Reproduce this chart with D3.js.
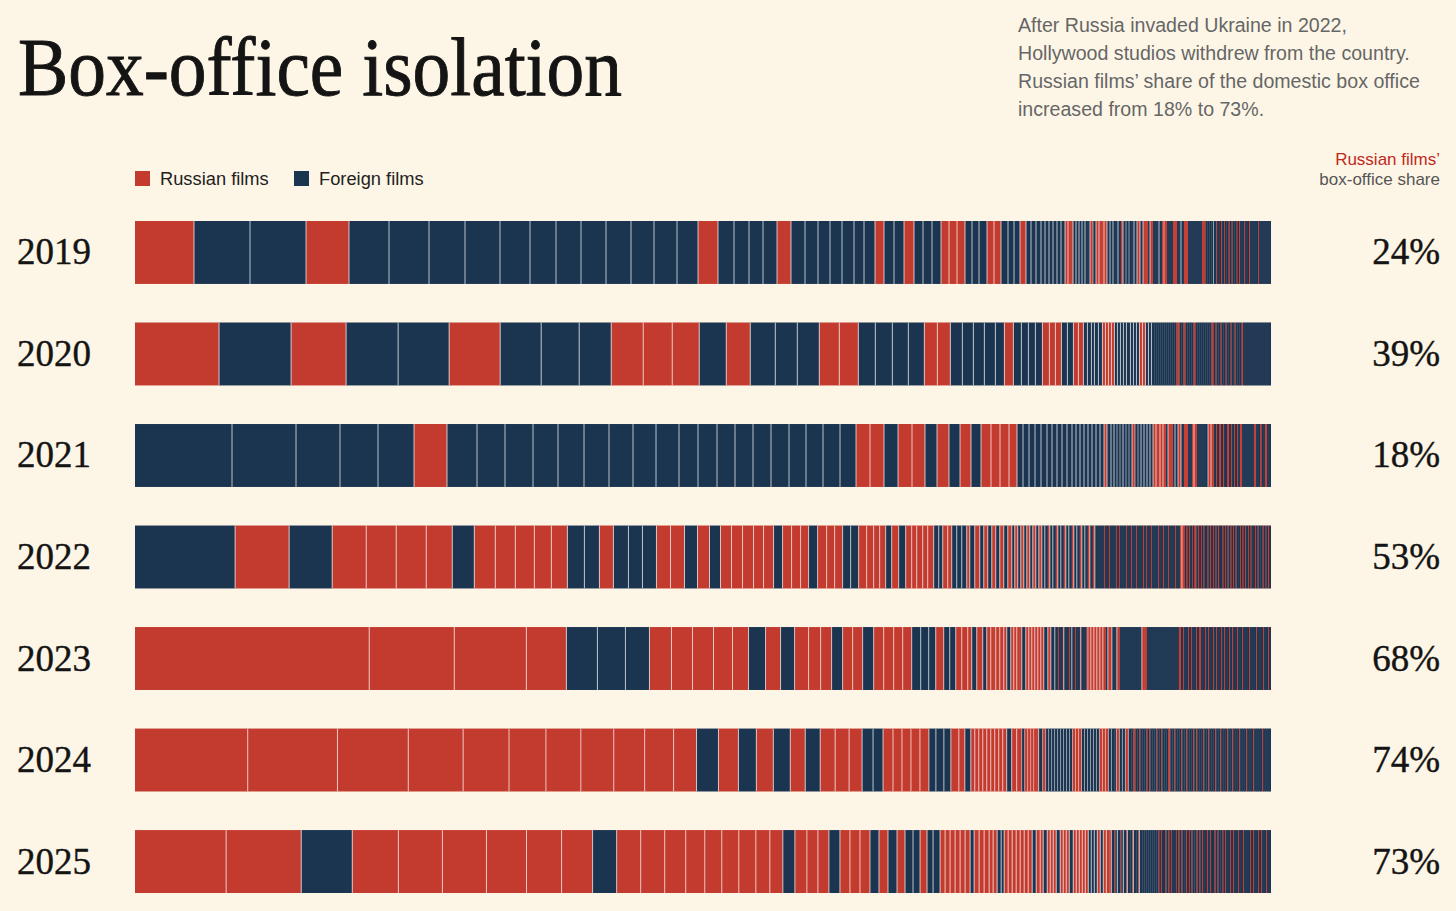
<!DOCTYPE html>
<html>
<head>
<meta charset="utf-8">
<script src="https://cdn.jsdelivr.net/npm/d3@7"></script>
<style>
  body { margin: 0; background: #fdf6e6; }
  svg { display: block; }
</style>
</head>
<body>
<svg width="1456" height="911"></svg>
<script>
const R = "Russian", F = "Foreign"

const years = ["2019", "2020", "2021", "2022", "2023", "2024", "2025"]
const shareLabels = ["24%", "39%", "18%", "53%", "68%", "74%", "73%"]

// each film: [origin, box-office size], biggest first
const films2019 = [
  [R,59],[F,56],[F,56],[R,43],[F,40],[F,40],[F,36],[F,35],[F,30],[F,26],[F,25],[F,25],[F,25],[F,23],[F,23],[F,21],
  [R,20],[F,16],[F,15],[F,14],[F,14],[R,14],[F,14],[F,13],[F,12],[F,12],[F,12],[F,10],[F,11],[R,9],[F,10],[F,10],[R,10],
  [F,9],[F,9],[F,9],[R,8],[R,8],[R,8],[F,7],[F,7],[F,8],[R,7],[R,7],[F,7],[F,6],[F,6],[R,6],
  [F,5],[F,5],[F,5],[F,4],[F,4],[F,4],[F,4],[F,4],[F,4],[R,3],[R,3],[R,2],[F,3],[F,3],[F,3],[F,3],[F,3],[F,2],[R,3],
  [F,3],[R,3],[R,3],[R,2],[R,3],
  [F,3],[F,3],[F,3],[F,2],[F,3],[R,2],[F,3],[F,3],[F,3],[F,2],[F,3],[R,3],[F,3],[R,3],[R,2],[F,2],[R,3],
  [F,2],[F,2],[F,2],[F,3],[R,2],[R,3],[F,2],[F,2],[F,2],[R,2],[R,2],[F,2],[F,2],[F,3],[R,2],[R,2],
  [F,2],[F,2],[F,2],[F,2],[F,2],[F,2],[F,2],[R,2],[R,1.5],[F,2],[F,2],[F,2],[F,2],[F,2.5],
  [R,1],[F,2],[F,2],[R,1],[F,2],[R,1],[F,1.5],[F,2],[R,1],[F,2],[R,1],[F,2],[F,2],[R,1],[F,1.5],[R,1],
  [F,2],[F,2],[R,1],[F,2],[F,2],[R,1],[F,2],
  [F,2],[F,2],[F,2],[R,1],[F,2],[F,2],[F,2],[F,2],[F,2],[F,2]
]

const films2020 = [
  [R,84],[F,72],[R,55],[F,52],[F,51],[R,51],[F,41],[F,38],[F,32],[R,32],[R,29],[R,27],[F,27],[R,24],[F,25],[F,22],
  [F,22],[R,20],[R,19],[F,17],[F,17],[F,16],[F,16],[R,13],[R,13],[F,12],[F,11],[F,11],[F,11],[F,9],[R,9],[F,8],
  [F,7],[F,7],[F,7],[R,7],[R,6],[R,6],[F,6],[F,6],[R,5],[R,5],
  [F,4],[F,4],[F,3],[F,4],[F,4],[R,3],[R,3],[R,3],[R,3],[F,3],[F,3],[F,3],[F,3],[F,4],[F,3],[F,3],[F,3],
  [R,3],[R,3],[F,3],[F,3],[F,3],
  [F,2],[F,2],[F,2],[F,2],[F,2],[F,2],[F,2],[F,2],[F,2],[F,2],[F,2],[R,2],[R,1],[F,2],[F,2],[R,2],
  [F,2],[F,2],[F,2],[F,2],[R,2],[F,2],[F,2],[F,2],[F,2],[F,2],[F,2],[F,2],[F,2],[R,2],
  [F,2],[R,1],[F,2],[F,2],[R,1],[F,2],[F,2],[R,1],[F,2],[F,2],[R,1],[F,2],[F,1],[R,1],
  [F,2],[F,2],[F,2],[R,1.5],[F,2],[F,2],[F,2],[F,2],[F,2],[F,2],[F,2],[F,2],[F,2],[F,2],[F,2],[F,2],[F,2],[F,2]
]

const films2021 = [
  [F,97],[F,64],[F,44],[F,38],[F,36],[R,33],[F,30],[F,28],[F,28],[F,25],[F,26],[F,25],[F,24],[F,23],[F,23],[F,19],
  [F,19],[F,18],[F,18],[F,18],[F,18],[F,17],[F,17],[F,17],[F,16],[R,14],[R,14],[F,14],[R,14],[R,13],[F,12],[R,12],
  [F,11],[R,11],[F,10],[R,10],[R,9],[R,9],[R,8],
  [F,6],[F,6],[F,6],[F,6],[F,6],[F,5],[F,5],[F,5],[F,5],[F,5],[F,4],[F,4],[F,4],[F,4],[F,4],[F,4],[F,4],[F,4],
  [R,3],[F,4],[F,3],[F,3],[F,3],[F,3],[F,3],[F,3],[F,3],[R,3],[F,3],[F,3],[F,3],[F,3],[F,3],[F,3],
  [R,3],[R,4],[R,3],[R,3],[F,2],[R,3],[R,2],[F,2],[F,3],[R,3],[F,3],[R,2],[R,2],[F,2],[F,2],[R,2],[R,3],
  [F,2],[F,2],[F,2],[F,2],[F,2],[F,1],[R,3],[R,3],
  [F,2],[R,1],[F,2],[R,1],[R,1],[F,2],[R,1],[F,2],[F,1],[R,1],[R,1],[F,2],[R,1],[F,2],[R,1],[F,2],[R,1],[F,2],[R,2],[F,2],
  [F,2],[F,2],[F,2],[F,2],[F,2],[R,2],[F,2],[F,2],[R,1.5],[F,2],[F,1.5],[R,2],[F,2],[F,2]
]

const films2022 = [
  [F,100],[R,54],[F,43],[R,34],[R,30],[R,30],[R,26],[F,22],[R,21],[R,20],[R,19],[R,17],[R,16],[F,17],[F,15],[R,14],
  [F,15],[F,14],[F,14],[R,14],[R,14],[F,13],[R,12],[F,11],[R,11],[R,11],[R,11],[R,10],[R,10],[F,9],[R,9],[R,9],
  [R,8],[F,9],[R,9],[R,8],[R,8],[F,8],[F,8],[R,8],[R,7],[R,6],[R,6],[F,6],[R,7],[F,7],[R,6],[R,5],[R,6],[R,5],
  [R,6],[F,5],[F,4],[R,5],[R,4],[F,5],[F,5],[F,5],[R,3],
  [F,5],[R,5],[F,4],[R,4],[F,4],[R,4],[F,4],[R,4],[F,4],[R,4],[F,3],[R,3],[F,3],[R,3],[F,3],[R,3],[F,3],[R,3],[F,3],[R,3],
  [F,3],[F,3],[R,2],[F,3],[F,3],[R,2],[F,3],[F,3],[R,2],[F,3],[F,3],[R,2],[F,3],[F,3],[R,2],[F,3],[F,3],[R,2],
  [F,3],[R,2],[F,3],[F,2],
  [F,2],[F,2],[R,1],[F,2],[F,2],[R,1],[F,2],[F,2],[F,2],[R,1],[F,2],[R,1],[F,2],[F,2],[F,2],[R,1],[F,2],[F,2],[R,1],
  [F,2],[F,2],[R,1],[F,2],[F,2],[F,2],[R,1],[F,2],[R,1],[F,2],[F,2],[R,1],[F,2],[F,2],[F,2],[R,1],[F,2],[F,2],[R,1],
  [F,2],[F,2],[R,1],[F,2],[F,2],[F,2],[R,1],[F,2],[F,2],
  [R,2],[R,3],
  [F,1.5],[R,1],[F,1.5],[R,1],[F,2],[R,1],[F,1.5],[R,1],[R,1],[F,1.5],[R,1],[F,2],[R,1],[F,1.5],[R,1],[F,1.5],[F,1.5],
  [R,1],[F,1.5],[R,1],[F,2],[R,1],[F,1.5],[R,1],[F,1.5],[R,1],[F,2],[F,1.5],[R,1],[F,1.5],[R,1],[F,1.5],[R,1],[F,2],
  [R,1],[F,1.5],[R,1],[F,1.5],[R,1],[F,2],[F,1.5],[R,1],[F,1.5],[R,1],[F,1.5],[R,1],[F,2],[R,1],[F,1.5],[R,1],[F,1.5],
  [F,2],[R,1],[F,1.5],[R,1],[F,2],[F,2],[R,1],[F,2],[R,1],[F,1.5],[R,1],[F,2]
]

const films2023 = [
  [R,234],[R,85],[R,72],[R,40],[F,31],[F,28],[F,24],[R,22],[R,21],[R,21],[R,19],[R,16],[F,17],[R,15],[F,14],[R,14],
  [R,12],[R,11],[F,11],[R,10],[R,10],[F,11],[R,10],[R,10],[R,9],[R,9],[F,9],[F,8],[F,7],[R,8],[F,6],[F,6],[R,6],
  [R,6],[R,4],[F,5],[R,6],[F,4],[R,4],[R,3],[R,2],[R,4],[R,4],[R,3],[F,4],[R,3],[R,3],[R,3],[R,2],[F,4],
  [R,3],[R,3],[R,3],[R,3],[R,3],[R,3],[F,4],[R,3],[F,4],
  [F,3],[R,1],[F,2],[F,2],[R,1],[F,3],[F,2],[R,1],[F,2],[F,3],[R,1],[F,2],[F,2],[R,1],[F,3],[F,2],[R,1],[F,1],
  [R,3],[R,3],[R,3],[R,3],[R,3],[R,3],[F,2],[R,4],[F,3],[F,2],[R,3],
  [F,2],[F,2],[F,2],[F,2],[F,2],[F,2],[F,2],[F,2],[F,2],[F,2],[F,2],[R,3],[R,2],
  [F,2],[F,2],[F,2],[F,2],[F,2],[F,2],[F,2],[F,2],[F,2],[F,2],[F,2],[F,2],[F,2],[F,2],[F,2],[F,2],[R,2],
  [F,2],[R,1],[F,2],[F,2],[R,1],[F,2],[R,1],[F,2],[F,2],[R,1],[F,2],[R,1],[R,1],[F,2],[F,2],[R,1],[F,2],[R,1],
  [F,2],[F,2],[R,1],[F,2],[R,1],[F,2],[F,2],[R,1],[F,2],[R,1],[F,2],[F,2],[R,1],[F,2],[R,1],[F,2],[F,2],[R,1],
  [F,2],[F,2],[R,1],
  [F,2],[F,2],[F,2],[R,1],[F,2],[F,2],[F,2],[R,1],[F,2],[F,2],[F,2],[R,1],[F,2],[F,2],[R,1],[F,2]
]

const films2024 = [
  [R,113],[R,90],[R,71],[R,55],[R,46],[R,37],[R,35],[R,33],[R,31],[R,29],[R,23],[F,22],[R,20],[F,18],[R,17],[F,17],
  [R,15],[F,15],[R,15],[R,14],[R,13],[F,11],[F,10],[R,10],[R,9],[R,9],[R,9],[R,9],[F,7],[F,8],[F,7],[R,8],[R,6],
  [F,6],[R,4],[R,4],[R,4],[R,4],[R,4],[R,4],[R,4],[R,4],[R,4],[F,5],[R,5],[R,5],[F,3],[R,3],[R,3],[R,3],[R,3],
  [R,2],[F,4],[R,3],[F,3],[F,3],[F,3],[F,3],[F,3],[F,3],[F,3],[F,3],[F,3],[R,3],[R,3],[R,3],[F,3],[F,3],[F,3],
  [F,3],[F,3],[F,3],[R,3],[R,3],[R,3],[F,3],[F,3],[F,2],[R,3],[F,3],[F,3],[R,3],[F,3],[F,2],[R,2],
  [F,2],[F,2],[R,1],[F,2],[F,2],[F,2],[R,1],[F,2],[R,1],[F,2],[F,2],[F,2],[R,1],[F,2],[F,2],[R,1],[F,2],[F,2],
  [F,2],[R,1],[R,1],[F,2],[F,2],[R,1],[F,2],[F,2],[F,2],[R,1],[F,2],[F,2],[R,1],[F,2],[F,2],[F,2],[R,1],[F,2],
  [R,1],[F,2],[F,2],[F,2],[R,1],[F,2],[F,2],[R,1],[F,2],[F,2],[F,2],[R,1],[F,2],[F,2],[R,1],[F,2],[F,2],[F,2],
  [R,1],[F,2],[F,2],[R,1],[F,2],[F,2],[F,2],[R,1],[F,2],[F,2],[F,2],[R,1],[F,2],[F,2],[F,2],[R,1],[F,2],[F,2],
  [F,2],[F,2],[R,1],[F,2],[F,2],[F,2],[F,2]
]

const films2025 = [
  [R,91],[R,75],[F,51],[R,46],[R,44],[R,44],[R,40],[R,35],[R,31],[F,24],[R,24],[R,24],[R,21],[R,19],[R,17],[R,17],
  [R,17],[R,14],[R,13],[F,12],[R,12],[R,11],[R,11],[F,11],[R,10],[R,10],[R,10],[F,9],[R,9],[F,9],[R,8],[F,8],
  [F,7],[R,7],[F,6],[F,7],[R,5],[R,5],[R,5],[R,5],[R,5],[R,5],[F,4],[R,5],[R,5],[R,5],[R,4],[R,4],[F,4],[F,3],
  [R,4],[R,4],[R,4],[R,4],[R,4],[R,4],[R,4],[F,4],[R,4],[R,3],[F,4],[R,3],[R,3],[R,3],[F,4],[R,3],[R,3],[R,3],
  [F,4],[R,3],[R,3],[R,3],[R,3],[R,3],[F,3],[F,3],[F,3],[R,3],[F,3],[R,3],[R,3],[R,2],
  [F,3],[R,1],[F,2],[F,3],[R,1],[F,2],[F,3],[R,1],[F,3],[F,2],[R,1],[F,3],[F,2],[R,1],[F,3],[F,2],
  [F,2],[F,2],[F,2],[F,2],[F,2],[F,2],
  [F,2],[R,1],[F,1.5],[R,1],[F,2],[F,1.5],[R,1],[F,2],[R,1],[F,1.5],[R,1],[F,2],[F,2],[R,1],[F,1.5],[R,1],[F,2],
  [R,1],[F,2],[F,1.5],[R,1],[F,2],[R,1],[F,1.5],[R,1],[F,2],[F,2],[R,1],[F,2],[R,1],[F,1.5],[R,1],[F,2],[F,2],
  [R,1],[F,2],[R,1],[F,2],[F,1.5],[R,1],[F,2],[R,1],[F,2],[F,2],[R,1],[F,1.5],[R,1],[F,2],[F,2],[R,1],[F,2],
  [R,1],[F,2],[F,2],[R,1],[F,2],[F,2],[R,1],[F,2],[F,2],[F,2],
  [R,1],[F,2],[R,1],[F,2],[F,2],[R,1],[F,2],[R,1],[F,2],[F,2],[R,1],[F,2],[F,2]
]

const filmsByYear = [films2019, films2020, films2021, films2022, films2023, films2024, films2025]

const svg = d3.select("svg"),
  width = +svg.attr("width"),
  height = +svg.attr("height"),
  margin = {left: 135, right: 185, top: 221, bottom: 18}

const bg = "#fdf6e6"
const serif = "'Liberation Serif', 'DejaVu Serif', serif"
const sans = "'Liberation Sans', Arial, sans-serif"

svg.append("rect").attr("width", width).attr("height", height).attr("fill", bg)

const color = d3.scaleOrdinal()
  .domain([R, F])
  .range(["#c33b2f", "#1b3450"])

const y = d3.scaleBand()
  .domain(years)
  .range([margin.top, height - margin.bottom])
  .paddingInner(0.38)
  .paddingOuter(0)

// title and notes
svg.append("text")
  .attr("x", 18).attr("y", 95)
  .attr("font-family", serif)
  .attr("font-size", 82)
  .attr("textLength", 604)
  .attr("lengthAdjust", "spacingAndGlyphs")
  .attr("fill", "#141414")
  .attr("stroke", "#141414")
  .attr("stroke-width", 0.9)
  .text("Box-office isolation")

const note = [
  "After Russia invaded Ukraine in 2022,",
  "Hollywood studios withdrew from the country.",
  "Russian films\u2019 share of the domestic box office",
  "increased from 18% to 73%."
]
svg.append("text")
  .attr("font-family", sans)
  .attr("font-size", 19.6)
  .attr("fill", "#666")
  .selectAll("tspan")
  .data(note)
  .enter()
  .append("tspan")
  .attr("x", 1018)
  .attr("y", (d, i) => 32 + i * 28)
  .text(d => d)

// legend
const legend = svg.append("g").attr("font-family", sans).attr("font-size", 18.3)
const legendItems = [[R, "Russian films", 135], [F, "Foreign films", 294]]
legendItems.forEach(([k, label, lx]) => {
  legend.append("rect").attr("x", lx).attr("y", 171).attr("width", 15).attr("height", 15).attr("fill", color(k))
  legend.append("text").attr("x", lx + 25).attr("y", 185).attr("fill", "#222").text(label)
})

svg.append("text")
  .attr("x", 1440).attr("y", 165).attr("text-anchor", "end")
  .attr("font-family", sans).attr("font-size", 17).attr("fill", "#c0281e")
  .text("Russian films\u2019")
svg.append("text")
  .attr("x", 1440).attr("y", 185).attr("text-anchor", "end")
  .attr("font-family", sans).attr("font-size", 17).attr("fill", "#555")
  .text("box-office share")

// one bar per year
years.forEach((year, i) => {
  const films = filmsByYear[i]
  const ends = d3.cumsum(films, d => d[1])
  const total = ends[ends.length - 1]
  const x = d3.scaleLinear().domain([0, total]).range([margin.left, width - margin.right])
  const segs = films.map((d, j) => ({kind: d[0], x0: x(j ? ends[j - 1] : 0), x1: x(ends[j])}))

  const g = svg.append("g")

  g.selectAll(".film")
    .data(segs)
    .enter()
    .append("rect")
    .attr("class", "film")
    .attr("x", d => d.x0)
    .attr("y", y(year))
    .attr("width", (d, j) => d.x1 - d.x0 + (j < segs.length - 1 ? 0.4 : 0))
    .attr("height", y.bandwidth())
    .attr("fill", d => color(d.kind))

  // thin light divider on the left edge of each film, fading out where films get too thin
  g.selectAll(".divider")
    .data(segs.slice(1))
    .enter()
    .append("line")
    .attr("class", "divider")
    .attr("x1", d => d.x0).attr("x2", d => d.x0)
    .attr("y1", y(year)).attr("y2", y(year) + y.bandwidth())
    .attr("stroke", "#fff")
    .attr("stroke-width", 1)
    .attr("stroke-opacity", d => {
      const w = d.x1 - d.x0
      return w >= 3 ? 0.7 : w >= 2.5 ? 0.5 : w >= 1.8 ? 0.07 : 0
    })

  const cy = y(year) + y.bandwidth() / 2
  svg.append("text")
    .attr("x", 17).attr("y", cy + 12)
    .attr("font-family", serif).attr("font-size", 37)
    .attr("fill", "#141414")
    .attr("stroke", "#141414").attr("stroke-width", 0.4)
    .text(year)

  svg.append("text")
    .attr("x", 1440).attr("y", cy + 12)
    .attr("text-anchor", "end")
    .attr("font-family", serif).attr("font-size", 37)
    .attr("fill", "#141414")
    .attr("stroke", "#141414").attr("stroke-width", 0.4)
    .text(shareLabels[i])
})
</script>
</body>
</html>
